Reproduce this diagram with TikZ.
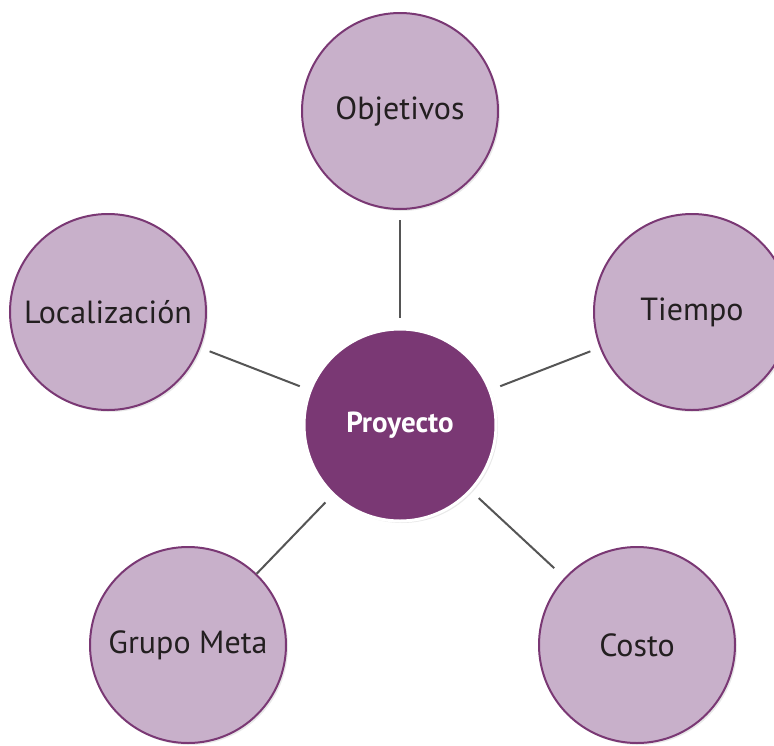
\documentclass[tikz,border=0pt]{standalone}
\usepackage{fontspec}
\setmainfont{PT Sans}
\usetikzlibrary{shadows}
\definecolor{pplum}{HTML}{7A3874}
\definecolor{plilac}{HTML}{C8B0CA}
\definecolor{pline}{HTML}{555555}
\definecolor{ptext}{HTML}{231F20}
\tikzset{
  topic/.style={circle,draw=pplum,fill=plilac,line width=2pt,minimum size=196pt,inner sep=0pt,text=ptext,font=\fontsize{32}{36}\selectfont,drop shadow={opacity=0.18,shadow xshift=2pt,shadow yshift=-2pt}},
  core/.style={circle,draw=white,fill=pplum,line width=3pt,minimum size=192pt,inner sep=0pt,text=white,font=\fontsize{29}{33}\selectfont\bfseries,drop shadow={opacity=0.18,shadow xshift=2pt,shadow yshift=-2pt}},
  link/.style={draw=pline,line width=2pt,shorten >=10pt,shorten <=10pt},
}

\begin{document}
\begin{tikzpicture}[x=1pt,y=-1pt]
  \useasboundingbox (0,0) rectangle (774,745);
  \node[core] (proj) at (400,425) {Proyecto};
  \foreach \n/\t/\x/\y in {obj/Objetivos/400/111,
                           tie/Tiempo/692/312,
                           loc/Localización/108/312,
                           gru/Grupo Meta/188/645,
                           cos/Costo/637/645} {
    \node[topic] (\n) at (\x,\y) {\t};
  }
  \draw[link] (obj) -- (proj);
  \draw[link] (loc) -- (proj);
  \draw[link] (tie) -- (proj);
  \draw[link,shorten <=0pt] (gru) -- (proj);
  \draw[link,shorten <=14pt] (cos) -- (proj);
\end{tikzpicture}
\end{document}
